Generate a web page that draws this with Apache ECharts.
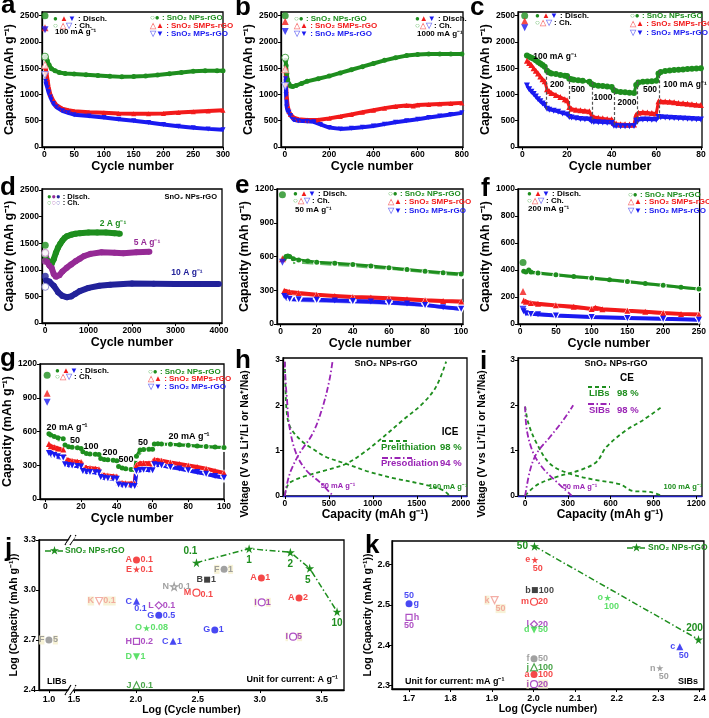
<!DOCTYPE html>
<html><head><meta charset="utf-8">
<script src="https://cdn.jsdelivr.net/npm/echarts@6/dist/echarts.min.js"></script>
<style>html,body{margin:0;padding:0;background:#fff}#c{width:709px;height:718px}</style>
</head><body><div id="c"></div>
<script>
// ================= DATA =================
// tick labels
const cycTicksA = [0,50,100,150,200,250,300];
const cycTicksB = [0,200,400,600,800];
const cycTicksC = [0,20,40,60,80];
const cycTicksD = [0,1000,2000,3000,4000];
const cycTicksE = [0,20,40,60,80,100];
const cycTicksF = [0,50,100,150,200,250];
const capTicks2500 = [0,500,1000,1500,2000,2500];
const capTicks1200 = [0,300,600,900,1200];
const capTicks1000 = [0,200,400,600,800,1000];
const voltTicks = [0,1,2,3];
const hCapTicks = [0,500,1000,1500,2000];
const iCapTicks = [0,300,600,900,1200];
const jCycTicks = [1.0,1.5,2.0,2.5,3.0,3.5];
const jCapTicks = [2.4,2.7,3.0,3.3];
const kCycTicks = [1.7,1.8,1.9,2.0,2.1,2.2,2.3,2.4];
const kCapTicks = [2.3,2.4,2.5,2.6];

// (a) 100 mA/g  [cycle, mAh/g]
const aFirstDis = [2500, 2270, 2230];   // cycle 1: NPs, SMPs, MPs
const aFirstCh  = [1720, 1560, 1370];
const aNPs  = [[2,1720],[3,1700],[5,1640],[8,1560],[12,1490],[18,1450],[25,1420],[35,1400],[50,1390],[70,1375],[90,1360],[110,1345],[130,1335],[150,1340],[170,1350],[190,1370],[210,1395],[230,1420],[250,1440],[270,1450],[290,1450],[300,1450]];
const aSMPs = [[2,1520],[3,1440],[5,1300],[7,1150],[10,1000],[15,880],[20,800],[30,730],[40,700],[50,680],[75,660],[100,650],[125,640],[150,635],[175,635],[200,640],[225,655],[250,670],[275,685],[300,700]];
const aMPs  = [[2,1250],[3,1200],[5,1130],[7,1040],[10,950],[15,830],[20,760],[30,690],[40,650],[50,615],[75,590],[100,560],[125,530],[150,500],[175,465],[200,430],[225,395],[250,365],[275,345],[300,330]];

// (b) 1000 mA/g
const bFirstDis = [2500, 2390, 2200];
const bFirstCh  = [1700, 1480, 1160];
const bNPs  = [[3,1650],[5,1550],[8,1400],[12,1280],[18,1200],[25,1160],[35,1150],[50,1170],[75,1210],[100,1250],[150,1300],[200,1350],[250,1410],[300,1470],[350,1530],[400,1590],[450,1650],[500,1700],[550,1740],[600,1760],[650,1770],[700,1770],[750,1770],[800,1770]];
const bSMPs = [[3,1500],[5,1200],[8,950],[12,780],[18,680],[25,620],[40,560],[60,530],[100,515],[150,515],[200,545],[250,580],[300,620],[350,660],[400,700],[450,740],[500,770],[550,790],[580,780],[600,800],[650,810],[700,820],[750,830],[800,840]];
const bMPs  = [[3,1300],[5,1000],[8,760],[12,690],[18,660],[25,600],[40,520],[60,500],[100,490],[130,480],[160,430],[200,370],[250,345],[300,355],[350,375],[400,400],[450,435],[500,470],[550,500],[600,530],[650,560],[700,590],[750,620],[800,650]];

// (c) rate: 100/200/500/1000/2000/500/100 mA/g
const cFirstDis = [2500, 2400, 2270];
const cNPs  = [[2,1740],[3,1720],[4,1700],[5,1680],[6,1650],[7,1620],[8,1590],[9,1560],[10,1530],[11,1450],[12,1420],[13,1400],[15,1390],[17,1370],[19,1355],[20,1350],[21,1300],[22,1290],[23,1280],[25,1270],[27,1260],[30,1240],[31,1200],[32,1180],[34,1165],[36,1160],[38,1150],[40,1140],[41,1080],[42,1060],[44,1045],[46,1040],[48,1035],[50,1030],[51,1180],[52,1230],[54,1240],[56,1245],[58,1250],[60,1260],[61,1400],[62,1430],[64,1445],[66,1455],[68,1465],[70,1470],[72,1475],[74,1485],[76,1490],[78,1495],[80,1500]];
const cSMPs = [[2,1640],[3,1600],[4,1560],[5,1500],[6,1450],[7,1400],[8,1340],[9,1290],[10,1250],[11,1100],[12,1060],[13,1030],[15,990],[17,950],[19,910],[20,890],[21,760],[22,730],[24,710],[26,700],[28,690],[30,680],[31,590],[32,570],[34,555],[36,545],[38,535],[40,530],[41,460],[42,445],[44,435],[46,432],[48,430],[50,430],[51,620],[52,650],[54,660],[56,655],[58,645],[60,640],[61,870],[62,870],[64,865],[66,860],[68,850],[70,840],[72,835],[74,825],[76,815],[78,805],[80,800]];
const cMPs  = [[2,1170],[3,1100],[4,1050],[5,1010],[6,960],[7,910],[8,870],[9,830],[10,800],[11,730],[12,710],[14,690],[16,670],[18,640],[20,620],[21,570],[22,560],[24,545],[26,535],[28,528],[30,522],[31,485],[32,478],[34,470],[36,466],[38,462],[40,458],[41,405],[42,398],[44,394],[46,393],[48,395],[50,398],[51,500],[52,515],[54,522],[56,522],[58,520],[60,520],[61,570],[62,568],[64,562],[66,558],[68,552],[70,548],[72,543],[74,538],[76,532],[78,526],[80,522]];
const cSteps = [[10.8,1530,700],[21.2,1350,560],[31.5,1240,470],[41.3,1140,390],[51.6,1250,400],[61.3,1460,520]]; // [cycle, top, bottom]
const cRateLabels = ['100 mA g⁻¹','200','500','1000','2000','500','100 mA g⁻¹'];

// (d) SnO2 NPs-rGO at 2, 5, 10 A/g
const dFirstDis = [1460, 1160, 880];
const dFirstCh  = [1300, 1320, 680];
const d2A  = [[10,1200],[50,1170],[100,1150],[150,1110],[200,1200],[250,1320],[300,1420],[350,1490],[400,1550],[450,1600],[500,1630],[600,1660],[700,1680],[800,1690],[1000,1700],[1200,1700],[1400,1700],[1600,1690],[1720,1680]];
const d5A  = [[10,1300],[50,1150],[100,1080],[150,1040],[200,920],[250,870],[330,900],[400,970],[500,1040],[600,1100],[700,1160],[800,1210],[900,1260],[1050,1300],[1300,1330],[1600,1320],[1800,1310],[2100,1330],[2400,1340]];
const d10A = [[20,800],[100,780],[200,700],[300,580],[400,510],[500,485],[600,500],[700,550],[800,600],[1000,660],[1250,700],[1500,720],[2000,745],[2500,740],[3000,735],[3500,735],[4000,735]];

// (e) 50 mA/g
const eFirstDis = [1150, 580, 550];
const eNPsD  = [[2,580],[3,600],[4,605],[5,600],[7,580],[10,570],[15,560],[20,550],[30,540],[40,530],[50,515],[60,500],[70,485],[80,470],[90,455],[100,445]];
const eNPsC  = [[2,540],[5,540],[10,545],[20,535],[30,525],[40,515],[50,500],[60,490],[70,475],[80,460],[90,445],[100,430]];
const eSMPsD = [[2,295],[3,290],[5,285],[10,275],[20,260],[30,250],[40,240],[50,235],[60,228],[70,220],[80,212],[90,205],[100,200]];
const eSMPsC = [[2,270],[5,265],[10,260],[20,250],[40,232],[60,220],[80,205],[100,190]];
const eMPsD  = [[2,250],[3,235],[5,225],[10,220],[20,215],[30,210],[40,205],[50,200],[60,192],[70,183],[80,170],[90,150],[100,135]];
const eMPsC  = [[2,220],[5,210],[10,205],[20,200],[40,190],[60,180],[80,160],[100,125]];

// (f) 200 mA/g
const fFirstDis = [455, 240, 110];
const fNPsD  = [[5,390],[8,385],[12,400],[15,385],[25,378],[50,365],[75,352],[100,340],[125,328],[150,315],[175,300],[200,287],[225,272],[250,260]];
const fNPsC  = [[5,380],[10,378],[25,372],[50,360],[100,335],[150,310],[200,282],[250,255]];
const fSMPsD = [[5,175],[8,165],[15,155],[25,150],[50,138],[75,128],[100,112],[105,120],[115,110],[150,98],[175,90],[200,82],[225,75],[250,70]];
const fSMPsC = [[5,165],[15,145],[50,130],[100,105],[150,92],[200,76],[250,65]];
const fMPsD  = [[5,95],[8,80],[15,75],[25,72],[50,63],[100,52],[150,45],[200,38],[250,32]];
const fMPsC  = [[5,85],[15,70],[50,58],[100,48],[150,40],[200,34],[250,28]];

// (g) rate: 20/50/100/200/500/50/20 mA/g
const gFirstDis = [1100, 940, 860];
const gNPsD  = [[2,580],[3,570],[5,555],[7,545],[10,535],[11,480],[13,465],[15,460],[18,455],[20,450],[21,420],[23,405],[25,400],[28,397],[30,395],[31,360],[33,352],[35,350],[38,345],[40,340],[41,290],[43,275],[45,268],[48,262],[50,260],[51,380],[53,435],[55,440],[58,442],[60,442],[61,490],[63,492],[65,490],[70,487],[75,482],[80,477],[85,472],[90,467],[95,462],[100,458]];
const gNPsC  = [[2,520],[5,525],[10,520],[11,460],[15,455],[20,445],[21,405],[25,395],[30,390],[31,350],[35,345],[40,335],[41,280],[45,262],[50,255],[51,370],[55,432],[60,435],[61,480],[65,485],[70,480],[80,470],[90,460],[100,450]];
const gSMPsD = [[2,490],[3,470],[5,460],[7,450],[10,440],[11,360],[13,345],[15,338],[18,332],[20,330],[21,290],[23,278],[25,275],[28,270],[30,265],[31,222],[33,212],[35,208],[38,203],[40,200],[41,150],[43,143],[45,140],[48,137],[50,135],[51,300],[53,318],[55,320],[58,318],[60,315],[61,350],[63,345],[65,340],[70,325],[75,312],[80,298],[85,285],[90,270],[95,250],[100,232]];
const gSMPsC = [[2,460],[5,440],[10,425],[11,345],[15,325],[20,318],[21,278],[25,265],[30,255],[31,212],[35,200],[40,192],[41,142],[45,132],[50,128],[51,288],[55,308],[60,305],[61,338],[65,330],[70,315],[80,288],[90,260],[100,222]];
const gMPsD  = [[2,410],[3,400],[5,392],[7,380],[10,370],[11,310],[13,302],[15,298],[18,293],[20,290],[21,250],[23,243],[25,240],[28,237],[30,235],[31,195],[33,188],[35,185],[38,182],[40,180],[41,130],[43,123],[45,120],[48,117],[50,115],[51,250],[53,258],[55,260],[58,258],[60,255],[61,310],[63,305],[65,300],[70,285],[75,272],[80,255],[85,240],[90,225],[95,205],[100,190]];
const gMPsC  = [[2,385],[5,370],[10,352],[11,298],[15,288],[20,280],[21,240],[25,230],[30,225],[31,185],[35,176],[40,170],[41,122],[45,112],[50,108],[51,240],[55,250],[60,246],[61,298],[65,290],[70,275],[80,245],[90,215],[100,180]];
const gRateLabels = ['20 mA g⁻¹','50','100','200','500','50','20 mA g⁻¹'];

// (h) voltage profiles (capacity mAh/g, V)
const hLiDis = [[0,2.95],[8,2.4],[20,1.9],[45,1.6],[100,1.4],[205,1.19],[300,1.06],[470,0.86],[697,0.71],[962,0.53],[1265,0.38],[1568,0.26],[1795,0.13],[1871,0.01]];
const hLiCh  = [[0,0.02],[25,0.2],[60,0.3],[205,0.42],[470,0.57],[697,0.71],[886,0.94],[1076,1.23],[1341,1.67],[1568,2.04],[1720,2.41],[1833,2.96]];
const hNaDis = [[0,2.96],[10,2.5],[23,2.19],[53,1.53],[129,0.94],[242,0.57],[394,0.31],[545,0.01]];
const hNaCh  = [[0,0.0],[30,0.3],[72,0.57],[167,0.94],[318,1.38],[432,1.97],[508,2.56],[545,3.0]];
// (i)
const iLiDis = [[0,1.97],[23,1.6],[81,1.16],[174,0.71],[314,0.49],[500,0.35],[663,0.26],[756,0.11],[872,0.09],[965,0.0]];
const iLiCh  = [[0,0.01],[81,0.24],[221,0.42],[384,0.57],[500,0.75],[570,1.08],[709,1.45],[826,1.67],[965,1.98]];
const iNaDis = [[0,1.97],[12,1.45],[58,0.94],[128,0.60],[221,0.31],[326,0.01]];
const iNaCh  = [[0,0.0],[35,0.57],[81,0.94],[174,1.30],[267,1.67],[337,2.0]];

// (j) LIBs comparison: log(cycle), log(capacity), current (A/g)
const jStarX = [2.489, 2.914, 3.247, 3.403, 3.624];
const jStarY = [3.164, 3.248, 3.226, 3.130, 2.870];
const jStarCur = ['0.1','1','2','5','10'];
const jLetters  = ['A','E','F','B','A','N','M','K','C','L','I','A','G','O','G','F','H','C','I','D','J'];
const jLogCycle = [2.005,2.005,2.712,2.575,3.013,2.309,2.489,1.704,2.005,2.185,3.016,3.317,2.185,2.086,2.637,1.0,2.005,2.30,3.269,2.005,2.005];
const jLogCap   = [3.18,3.124,3.124,3.062,3.072,3.02,2.984,2.934,2.932,2.908,2.926,2.952,2.848,2.772,2.76,2.70,2.692,2.692,2.72,2.60,2.428];
const jCurrent  = ['0.1','0.1','1','1','1','0.1','0.1','0.1','0.1','0.1','1','2','0.5','0.08','1','5','0.2','1','5','1','0.1'];
// (k) SIBs comparison: current (mA/g)
const kStarX = [2.002, 2.397];
const kStarY = [2.646, 2.414];
const kStarCur = ['50','200'];
const kLetters  = ['e','b','m','k','g','h','o','l','d','f','j','a','i','c','n'];
const kLogCycle = [2.003,2.003,2.001,1.906,1.70,1.70,2.178,2.001,2.001,2.001,2.001,2.001,2.001,2.352,2.304];
const kLogCap   = [2.612,2.537,2.508,2.512,2.503,2.469,2.518,2.452,2.438,2.366,2.345,2.327,2.303,2.396,2.343];
const kCurrent  = ['50','100','20','50','50','50','100','20','50','50','100','100','20','50','50'];

// ================= STYLE / LAYOUT =================
const FF = '"Liberation Sans", Arial, Helvetica, sans-serif';
const RED='#f21a1a', GRN='#1e8e1e', BLU='#1a1af0', PUR='#952a95', NAV='#22229a', VIO='#9a24b5', LGR='#35d845', SAL='#f09a90', GRY='#8a8a8a', BLK='#111111';
const GRNl='#62b862', REDl='#f78080', BLUl='#8080f5', PURl='#c07ac0', NAVl='#7a7ac8';
const STAR = 'path://M50,0 L61,35 L98,35 L68,57 L79,91 L50,70 L21,91 L32,57 L2,35 L39,35 Z';
const plain = v => String(v);

// j broken x-axis: points left of the break are shifted onto the compressed segment
const jBreakPos = 1.476, jBreakShift = 0.298;
const jDispX = v => v < 1.3 ? v + jBreakShift : v;
const jInvX = v => v < jBreakPos ? v - jBreakShift : v;

const chart = echarts.init(document.getElementById('c'));
const grids=[], xA=[], yA=[], S=[], GR=[];

function panel(p){
  const gi=grids.length;
  grids.push({left:p.l,top:p.t,width:p.w,height:p.h,show:true,borderColor:'#000',borderWidth:1.3,backgroundColor:'rgba(0,0,0,0)'});
  const lab={fontSize:p.tf||8.5,fontWeight:'bold',fontFamily:FF,color:'#000'};
  const nm={fontSize:p.nf||12.5,fontWeight:'bold',fontFamily:FF,color:'#000'};
  xA.push({type:'value',gridIndex:gi,min:p.x[0],max:p.x[1],
    axisLine:{show:true,onZero:false,lineStyle:{color:p.xc||'#000',width:1.3}},
    axisTick:{show:true,length:3,customValues:p.xt,lineStyle:{color:'#000',width:1}},
    axisLabel:Object.assign({customValues:p.xt,margin:p.xm||3,formatter:p.xf||plain},lab),
    splitLine:{show:false},name:p.xn,nameLocation:'middle',nameGap:p.xg||11,nameTextStyle:nm});
  yA.push({type:'value',gridIndex:gi,min:p.y[0],max:p.y[1],
    axisLine:{show:true,onZero:false,lineStyle:{color:'#000',width:1.3}},
    axisTick:{show:true,length:3,customValues:p.yt,lineStyle:{color:'#000',width:1}},
    axisLabel:Object.assign({customValues:p.yt,margin:p.ym||3,formatter:p.yf||plain},lab),
    splitLine:{show:false},name:p.yn,nameLocation:'middle',nameGap:p.yg,nameTextStyle:nm});
  return gi;
}
function band(gi,data,color,sym,o={}){
  S.push({type:'line',xAxisIndex:gi,yAxisIndex:gi,data,symbol:sym,symbolSize:o.s||5,symbolRotate:o.rot||0,showAllSymbol:true,
    lineStyle:{color:o.lc||color,width:(o.lw===undefined?4:o.lw),type:o.lt||'solid',opacity:(o.lw===0?0:1)},
    itemStyle:{color:o.fill||color,borderColor:color,borderWidth:o.bw||0},smooth:o.smooth||false,z:o.z||3,animation:false,silent:true});
}
function pts(gi,data,color,sym,o={}){
  S.push({type:'scatter',xAxisIndex:gi,yAxisIndex:gi,data,symbol:sym,symbolSize:o.s||7,symbolRotate:o.rot||0,
    itemStyle:{color:o.fill||color,borderColor:color,borderWidth:o.bw||0},z:o.z||4,animation:false,silent:true});
}
function curve(gi,data,color,dash){
  S.push({type:'line',xAxisIndex:gi,yAxisIndex:gi,data,showSymbol:false,smooth:0.35,
    lineStyle:{color,width:1.8,type:dash},z:3,animation:false,silent:true});
}
function richFor(fs){
  const f=`bold ${fs}px ${FF}`;
  return {g:{fill:GRN,font:f},r:{fill:RED,font:f},b:{fill:BLU,font:f},gl:{fill:GRNl,font:f},rl:{fill:REDl,font:f},bl:{fill:BLUl,font:f},
          p:{fill:PUR,font:f},n:{fill:NAV,font:f},pl:{fill:PURl,font:f},nl:{fill:NAVl,font:f},k:{fill:'#000',font:f}};
}
function T(x,y,text,o={}){
  const fs=o.fs||8;
  GR.push({type:'text',x,y,z:100,silent:true,rotation:o.rot||0,style:{text,fill:o.c||'#000',font:`bold ${fs}px ${FF}`,align:o.a||'left',verticalAlign:'middle',rich:richFor(fs)}});
}
function Ln(x1,y1,x2,y2,color,dash,w){
  GR.push({type:'line',z:100,silent:true,shape:{x1,y1,x2,y2},style:{stroke:color,lineWidth:w||1.8,lineDash:dash||null}});
}
const DASH=[4,3], DASHDOT=[6,2.5,1.5,2.5];

// ---------- (a) ----------
let gi = panel({l:42,t:12,w:181,h:135,x:[-4,300],y:[0,2570],xt:cycTicksA,yt:capTicks2500,xn:'Cycle number',yn:'Capacity (mAh g⁻¹)',yg:23});
band(gi,aNPs,GRN,'circle');
band(gi,aSMPs,RED,'triangle');
band(gi,aMPs,BLU,'triangle',{rot:180});
pts(gi,[[1,aFirstDis[0]]],GRN,'circle');
pts(gi,[[1,aFirstDis[1]]],RED,'triangle');
pts(gi,[[1,aFirstDis[2]]],BLU,'triangle',{rot:180});
pts(gi,[[1,aFirstCh[0]]],GRN,'circle',{fill:'#fff',bw:1});
pts(gi,[[1,aFirstCh[1]]],REDl,'triangle',{fill:'#fff',bw:1});
pts(gi,[[1,aFirstCh[2]]],BLUl,'triangle',{fill:'#fff',bw:1,rot:180});

// ---------- (b) ----------
gi = panel({l:281,t:12,w:182,h:135,x:[-18,805],y:[0,2570],xt:cycTicksB,yt:capTicks2500,xn:'Cycle number',yn:'Capacity (mAh g⁻¹)',yg:23});
band(gi,bNPs,GRN,'circle');
band(gi,bSMPs,RED,'triangle');
band(gi,bMPs,BLU,'triangle',{rot:180});
pts(gi,[[1,bFirstDis[0]]],GRN,'circle');
pts(gi,[[1,bFirstDis[1]]],RED,'triangle');
pts(gi,[[1,bFirstDis[2]]],BLU,'triangle',{rot:180});
pts(gi,[[1,bFirstCh[0]]],GRN,'circle',{fill:'#fff',bw:1});
pts(gi,[[1,bFirstCh[1]]],REDl,'triangle',{fill:'#fff',bw:1});
pts(gi,[[1,bFirstCh[2]]],BLUl,'triangle',{fill:'#fff',bw:1,rot:180});

// ---------- (c) ----------
gi = panel({l:518,t:12,w:184,h:135,x:[-2,80.5],y:[0,2570],xt:cycTicksC,yt:capTicks2500,xn:'Cycle number',yn:'Capacity (mAh g⁻¹)',yg:24});
band(gi,cNPs,GRN,'circle',{s:6,lw:3});
band(gi,cSMPs,RED,'triangle',{s:6,lw:3});
band(gi,cMPs,BLU,'triangle',{s:6,lw:3,rot:180});
pts(gi,[[1,cFirstDis[0]]],GRN,'circle');
pts(gi,[[1,cFirstDis[1]]],RED,'triangle');
pts(gi,[[1,cFirstDis[2]]],BLU,'triangle',{rot:180});
S.push({type:'line',xAxisIndex:gi,yAxisIndex:gi,data:[],silent:true,animation:false,
  markLine:{silent:true,symbol:'none',animation:false,lineStyle:{color:'#555',type:[3,2],width:1.2},label:{show:false},
    data:cSteps.map(s=>[{coord:[s[0],s[1]]},{coord:[s[0],s[2]]}])}});

// ---------- (d) ----------
gi = panel({l:42,t:189,w:180,h:134,x:[-70,4070],y:[0,2520],xt:cycTicksD,yt:capTicks2500,xn:'Cycle number',yn:'Capacity (mAh g⁻¹)',yg:23});
band(gi,d2A,GRN,'circle',{s:6,lw:6});
band(gi,d5A,PUR,'circle',{s:6,lw:6});
band(gi,d10A,NAV,'circle',{s:6,lw:6});
pts(gi,[[5,dFirstDis[0]]],GRN,'circle');
pts(gi,[[5,dFirstDis[1]]],PUR,'circle');
pts(gi,[[5,dFirstDis[2]]],NAV,'circle');
pts(gi,[[5,dFirstCh[0]]],GRNl,'circle',{fill:'#fff',bw:1});
pts(gi,[[5,dFirstCh[1]]],PURl,'circle',{fill:'#fff',bw:1});
pts(gi,[[5,dFirstCh[2]]],NAVl,'circle',{fill:'#fff',bw:1});

// ---------- (e) ----------
gi = panel({l:277,t:189,w:186,h:135,x:[-2,101],y:[0,1200],xt:cycTicksE,yt:capTicks1200,xn:'Cycle number',yn:'Capacity (mAh g⁻¹)',yg:23});
band(gi,eNPsC,GRNl,'emptyCircle',{s:5,lw:2,fill:'#fff',bw:1});
band(gi,eNPsD,GRN,'circle',{s:5,lw:3});
band(gi,eSMPsC,REDl,'emptyTriangle',{s:5,lw:2,fill:'#fff',bw:1});
band(gi,eSMPsD,RED,'triangle',{s:6,lw:4});
band(gi,eMPsC,BLUl,'emptyTriangle',{s:5,lw:2,fill:'#fff',bw:1,rot:180});
band(gi,eMPsD,BLU,'triangle',{s:6,lw:4,rot:180});
pts(gi,[[1,eFirstDis[0]]],GRN,'circle');
pts(gi,[[1,eFirstDis[1]]],RED,'triangle');
pts(gi,[[1,eFirstDis[2]]],BLU,'triangle',{rot:180});

// ---------- (f) ----------
gi = panel({l:518,t:189,w:184,h:135,x:[-3,251],y:[0,1000],xt:cycTicksF,yt:capTicks1000,xn:'Cycle number',yn:'Capacity (mAh g⁻¹)',yg:25});
band(gi,fNPsC,GRNl,'emptyCircle',{s:5,lw:2,fill:'#fff',bw:1});
band(gi,fNPsD,GRN,'circle',{s:5,lw:3});
band(gi,fSMPsC,REDl,'emptyTriangle',{s:5,lw:2,fill:'#fff',bw:1});
band(gi,fSMPsD,RED,'triangle',{s:6,lw:4});
band(gi,fMPsC,BLUl,'emptyTriangle',{s:5,lw:2,fill:'#fff',bw:1,rot:180});
band(gi,fMPsD,BLU,'triangle',{s:6,lw:4,rot:180});
pts(gi,[[4,fFirstDis[0]]],GRN,'circle');
pts(gi,[[4,fFirstDis[1]]],RED,'triangle');
pts(gi,[[4,fFirstDis[2]]],BLU,'triangle',{rot:180});

// ---------- (g) ----------
gi = panel({l:40,t:364,w:184,h:135,x:[-3,100],y:[0,1200],xt:cycTicksE,yt:capTicks1200,xn:'Cycle number',yn:'Capacity (mAh g⁻¹)',yg:21});
band(gi,gNPsC,GRNl,'emptyCircle',{s:5,lw:2,fill:'#fff',bw:1});
band(gi,gNPsD,GRN,'circle',{s:5,lw:3});
band(gi,gSMPsC,REDl,'emptyTriangle',{s:5,lw:2,fill:'#fff',bw:1});
band(gi,gSMPsD,RED,'triangle',{s:6,lw:4});
band(gi,gMPsC,BLUl,'emptyTriangle',{s:5,lw:2,fill:'#fff',bw:1,rot:180});
band(gi,gMPsD,BLU,'triangle',{s:6,lw:4,rot:180});
pts(gi,[[1,gFirstDis[0]]],GRN,'circle');
pts(gi,[[1,gFirstDis[1]]],RED,'triangle');
pts(gi,[[1,gFirstDis[2]]],BLU,'triangle',{rot:180});

// ---------- (h) ----------
gi = panel({l:283,t:358,w:184,h:138,x:[-20,2070],y:[0,3.04],xt:hCapTicks,yt:voltTicks,xn:'Capacity (mAh g⁻¹)',xc:'#2020c0',nf:12});
curve(gi,hLiDis,GRN,DASH); curve(gi,hLiCh,GRN,DASH);
curve(gi,hNaDis,VIO,DASHDOT); curve(gi,hNaCh,VIO,DASHDOT);

// ---------- (i) ----------
gi = panel({l:518,t:358,w:184,h:138,x:[-50,1240],y:[0,3.04],xt:iCapTicks,yt:voltTicks,xn:'Capacity (mAh g⁻¹)',xc:'#2020c0',nf:12});
curve(gi,iLiDis,GRN,DASH); curve(gi,iLiCh,GRN,DASH);
curve(gi,iNaDis,VIO,DASHDOT); curve(gi,iNaCh,VIO,DASHDOT);

// ---------- reference styles for (j),(k) ----------
const refStyle = {
  A:{sym:'circle',c:RED}, E:{sym:STAR,c:RED}, F:{sym:'circle',c:GRY,bg:1}, B:{sym:'rect',c:BLK,size:6},
  N:{sym:STAR,c:GRY,hollow:1}, M:{sym:'circle',c:RED,hollow:1}, K:{sym:'triangle',c:SAL,hollow:1,rot:180,bg:1},
  C:{sym:'triangle',c:BLU}, L:{sym:'diamond',c:VIO,hollow:1}, I:{sym:'circle',c:VIO,hollow:1,bg:1},
  G:{sym:'circle',c:BLU}, O:{sym:STAR,c:LGR}, H:{sym:'rect',c:VIO,hollow:1,size:6}, D:{sym:'triangle',c:LGR,rot:180},
  J:{sym:'triangle',c:GRN,hollow:1},
  e:{sym:STAR,c:RED}, b:{sym:'rect',c:BLK,size:6}, m:{sym:'circle',c:RED,hollow:1}, k:{sym:'triangle',c:SAL,hollow:1,rot:180,bg:1},
  g:{sym:'circle',c:BLU}, h:{sym:'rect',c:VIO,hollow:1,size:6}, o:{sym:STAR,c:LGR}, l:{sym:'diamond',c:VIO,hollow:1},
  d:{sym:'triangle',c:LGR,rot:180}, f:{sym:'circle',c:GRY}, j:{sym:'triangle',c:GRN,hollow:1}, a:{sym:'circle',c:RED},
  i:{sym:'circle',c:VIO,hollow:1,bg:1}, c:{sym:'triangle',c:BLU}, n:{sym:STAR,c:GRY}
};
// label placement: l = letter position, c = current position (+ offsets)
const jPlace = {8:{c:'bottom',co:[4,-1]}, 6:{c:'right',co:[0,2]}};
const kPlace = {0:{c:'bottom',co:[3,0]}, 3:{c:'bottom',co:[6,0]}, 4:{l:'right',c:'top'}, 5:{l:'right',c:'bottom'},
                6:{c:'bottom',co:[4,0]}, 13:{c:'bottom',co:[4,0]}, 14:{c:'bottom',co:[4,0]}};
function refs(gi,letters,xs,ys,curs,place,xfn){
  const mk=[], cl=[];
  letters.forEach((L,i)=>{
    const st=refStyle[L]; const pl=Object.assign({l:'left',c:'right'},place[i]||{});
    const x=xfn?xfn(xs[i]):xs[i]; const bg=st.bg?'#f5efcc':'rgba(0,0,0,0)';
    mk.push({name:L,value:[x,ys[i]],symbol:st.sym,symbolSize:st.size||7,symbolRotate:st.rot||0,
      itemStyle:{color:st.hollow?'#fff':st.c,borderColor:st.c,borderWidth:st.hollow?1.2:0},
      label:{show:true,position:pl.l,distance:1,color:st.c,backgroundColor:bg,offset:pl.lo||[0,0]}});
    cl.push({name:curs[i],value:[x,ys[i]],
      label:{show:true,position:pl.c,distance:1,color:st.c,backgroundColor:bg,offset:pl.co||[0,0]}});
  });
  const lab={formatter:'{b}',fontSize:9,fontWeight:'bold',fontFamily:FF};
  S.push({type:'scatter',xAxisIndex:gi,yAxisIndex:gi,data:cl,symbolSize:6,itemStyle:{color:'rgba(0,0,0,0)'},label:lab,z:5,animation:false,silent:true});
  S.push({type:'scatter',xAxisIndex:gi,yAxisIndex:gi,data:mk,label:lab,z:6,animation:false,silent:true});
}
function stars(gi,xs,ys,curs,pos,xfn){
  S.push({type:'line',xAxisIndex:gi,yAxisIndex:gi,symbol:STAR,symbolSize:9,showAllSymbol:true,
    lineStyle:{color:GRN,width:1.5,type:DASHDOT},itemStyle:{color:GRN},z:4,animation:false,silent:true,
    data:xs.map((x,i)=>({name:curs[i],value:[xfn?xfn(x):x,ys[i]],label:{show:true,position:pos[i][0],offset:pos[i][1]||[0,0],distance:2,
      formatter:'{b}',color:GRN,fontSize:10,fontWeight:'bold',fontFamily:FF}}))});
}

// ---------- (j) ----------
const jGi = panel({l:39,t:540,w:305,h:150,x:[1.218,3.68],y:[2.4,3.3],xt:jCycTicks.map(jDispX),yt:jCapTicks,
  xf:v=>jInvX(v).toFixed(1),yf:v=>v.toFixed(1),xn:'Log (Cycle number)',yn:'Log (Capacity (mAh g⁻¹))',xg:15,yg:19,nf:10.5,tf:9,xm:5});
stars(jGi,jStarX,jStarY,jStarCur,[['top',[-6,0]],['bottom'],['bottom'],['bottom',[-2,0]],['bottom']]);
refs(jGi,jLetters,jLogCycle,jLogCap,jCurrent,jPlace,jDispX);

// ---------- (k) ----------
const kGi = panel({l:392,t:541,w:312,h:148,x:[1.659,2.41],y:[2.291,2.659],xt:kCycTicks,yt:kCapTicks,
  xf:v=>v.toFixed(1),yf:v=>v.toFixed(1),xn:'Log (Cycle number)',yn:'Log (Capacity (mAh g⁻¹))',xg:15,yg:14,nf:10.5,tf:9,xm:5,ym:2});
stars(kGi,kStarX,kStarY,kStarCur,[['left'],['top',[-4,0]]]);
refs(kGi,kLetters,kLogCycle,kLogCap,kCurrent,kPlace);

// ================= TEXT ANNOTATIONS =================
const LET = {fs:26};
[['a',1,6],['b',235,8],['c',470,8],['d',0,188],['e',235,186],['f',481,189],['g',0,359],['h',235,361],['i',480,362],['j',5,549],['k',365,546]]
  .forEach(([t,x,y])=>T(x,y,t,LET));
// voltage axis titles (h, i)
T(245,444,'Voltage (V vs Li⁺/Li or Na⁺/Na)',{a:'center',fs:10.5,rot:Math.PI/2});
T(482,444,'Voltage (V vs Li⁺/Li or Na⁺/Na)',{a:'center',fs:10.5,rot:Math.PI/2});
// a
T(53,19,'{g|●} {r|▲}{b|▼} : Disch.'); T(53,25.5,'{gl|○} {rl|△}{bl|▽} : Ch.'); T(55,32,'100 mA g⁻¹');
T(150,17.5,'{gl|○}{g|● : SnO₂ NPs-rGO}'); T(150,26,'{rl|△}{r|▲ : SnO₂ SMPs-rGO}'); T(150,34,'{bl|▽}{b|▼ : SnO₂ MPs-rGO}');
// b
T(294,19,'{gl|○}{g|● : SnO₂ NPs-rGO}'); T(294,26,'{rl|△}{r|▲ : SnO₂ SMPs-rGO}'); T(294,34,'{bl|▽}{b|▼ : SnO₂ MPs-rGO}');
T(415,19,'{g|●}{r|▲}{b|▼} : Disch.'); T(415,26,'{gl|○}{rl|△}{bl|▽} : Ch.'); T(417,34,'1000 mA g⁻¹');
// c
T(535,16,'{g|●} {r|▲}{b|▼} : Disch.'); T(535,23,'{gl|○}{rl|△}{bl|▽} : Ch.');
T(630,16,'{gl|○}{g|● : SnO₂ NPs-rGO}'); T(630,24,'{rl|△}{r|▲ : SnO₂ SMPs-rGO}'); T(630,33,'{bl|▽}{b|▼ : SnO₂ MPs-rGO}');
[[555,57],[557,85],[578,90],[603,98],[627,103],[650,90],[685,85]].forEach((p,i)=>T(p[0],p[1],cRateLabels[i],{a:'center',fs:8.5}));
// d
T(47,196.5,'{g|●}{p|●}{n|●} : Disch.',{fs:7.5}); T(47,203,'{gl|○}{pl|○}{nl|○} : Ch.',{fs:7.5});
T(217,197,'SnO₂ NPs-rGO',{a:'right',fs:7.5});
T(113,224,'2 A g⁻¹',{a:'center',c:GRN,fs:8.5}); T(147,243,'5 A g⁻¹',{a:'center',c:PUR,fs:8.5}); T(187,273,'10 A g⁻¹',{a:'center',c:NAV,fs:8.5});
// e
T(293,194,'{g|●} {r|▲}{b|▼} : Disch.'); T(293,201,'{gl|○}{rl|△}{bl|▽} : Ch.'); T(295,210,'50 mA g⁻¹');
T(388,194,'{gl|○}{g|● : SnO₂ NPs-rGO}'); T(388,202,'{rl|△}{r|▲ : SnO₂ SMPs-rGO}'); T(388,211,'{bl|▽}{b|▼ : SnO₂ MPs-rGO}');
// f
T(527,194,'{g|●} {r|▲}{b|▼} : Disch.'); T(527,201,'{gl|○}{rl|△}{bl|▽} : Ch.'); T(528,209,'200 mA g⁻¹');
T(628,195,'{gl|○}{g|● : SnO₂ NPs-rGO}'); T(628,202,'{rl|△}{r|▲ : SnO₂ SMPs-rGO}'); T(628,211,'{bl|▽}{b|▼ : SnO₂ MPs-rGO}');
// g
T(55,371,'{g|●} {r|▲}{b|▼} : Disch.'); T(55,377,'{gl|○}{rl|△}{bl|▽} : Ch.');
T(148,372,'{gl|○}{g|● : SnO₂ NPs-rGO}'); T(148,379,'{rl|△}{r|▲ : SnO₂ SMPs-rGO}'); T(148,387,'{bl|▽}{b|▼ : SnO₂ MPs-rGO}');
[[67,428],[75,441],[91,447],[110,453],[126,460],[143,443],[189,437]].forEach((p,i)=>T(p[0],p[1],gRateLabels[i],{a:'center',fs:9}));
// h
T(386,364,'SnO₂ NPs-rGO',{a:'center',fs:9});
T(450,432,'ICE',{a:'center',fs:10});
Ln(382,441,408,441,GRN,DASH,1.8); T(381,447,'Prelithiation',{c:GRN,fs:9.5}); T(440,447,'98 %',{c:GRN,fs:9.5});
Ln(382,458,412,458,VIO,DASHDOT,1.8); T(381,463,'Presodiation',{c:VIO,fs:9.5}); T(440,463,'94 %',{c:VIO,fs:9.5});
T(338,486,'50 mA g⁻¹',{a:'center',c:VIO,fs:7.5}); T(448,487,'100 mA g⁻¹',{a:'center',c:GRN,fs:7.5});
// i
T(616,364,'SnO₂ NPs-rGO',{a:'center',fs:9});
T(627,378,'CE',{a:'center',fs:10});
Ln(588,387,610,387,GRN,DASH,1.8); T(589,393,'LIBs',{c:GRN,fs:9.5}); T(617,393,'98 %',{c:GRN,fs:9.5});
Ln(588,404,610,404,VIO,DASHDOT,1.8); T(589,410,'SIBs',{c:VIO,fs:9.5}); T(617,410,'98 %',{c:VIO,fs:9.5});
T(580,487,'50 mA g⁻¹',{a:'center',c:VIO,fs:7.5}); T(683,487,'100 mA g⁻¹',{a:'center',c:GRN,fs:7.5});
// j
Ln(45,551,63,551,GRN,DASHDOT,1.5); T(54,551,'★',{a:'center',c:GRN,fs:10}); T(65,551,'SnO₂ NPs-rGO',{c:GRN,fs:8.5});
T(47,682,'LIBs',{fs:9}); T(338,680,'Unit for current: A g⁻¹',{a:'right',fs:9});
// k
Ln(627,548,645,548,GRN,DASHDOT,1.5); T(636,548,'★',{a:'center',c:GRN,fs:10}); T(648,548,'SnO₂ NPs-rGO',{c:GRN,fs:8.5});
T(405,682,'Unit for current: mA g⁻¹',{fs:9}); T(698,682,'SIBs',{a:'right',fs:9});

chart.setOption({animation:false,grid:grids,xAxis:xA,yAxis:yA,series:S});

// axis-break marks on (j), located through the library's own scale
const pTop = chart.convertToPixel({gridIndex:jGi},[jBreakPos,3.3]);
const pBot = chart.convertToPixel({gridIndex:jGi},[jBreakPos,2.4]);
[pTop,pBot].forEach(p=>{
  GR.push({type:'polygon',z:101,silent:true,shape:{points:[[p[0]-5,p[1]+4],[p[0]-1,p[1]+4],[p[0]+5,p[1]-4],[p[0]+1,p[1]-4]]},style:{fill:'#fff'}});
  Ln(p[0]-6,p[1]+5,p[0]-0,p[1]-5,'#000',null,1.2);
  Ln(p[0]-1,p[1]+5,p[0]+5,p[1]-5,'#000',null,1.2);
});
chart.setOption({graphic:{elements:GR}});
</script></body></html>
